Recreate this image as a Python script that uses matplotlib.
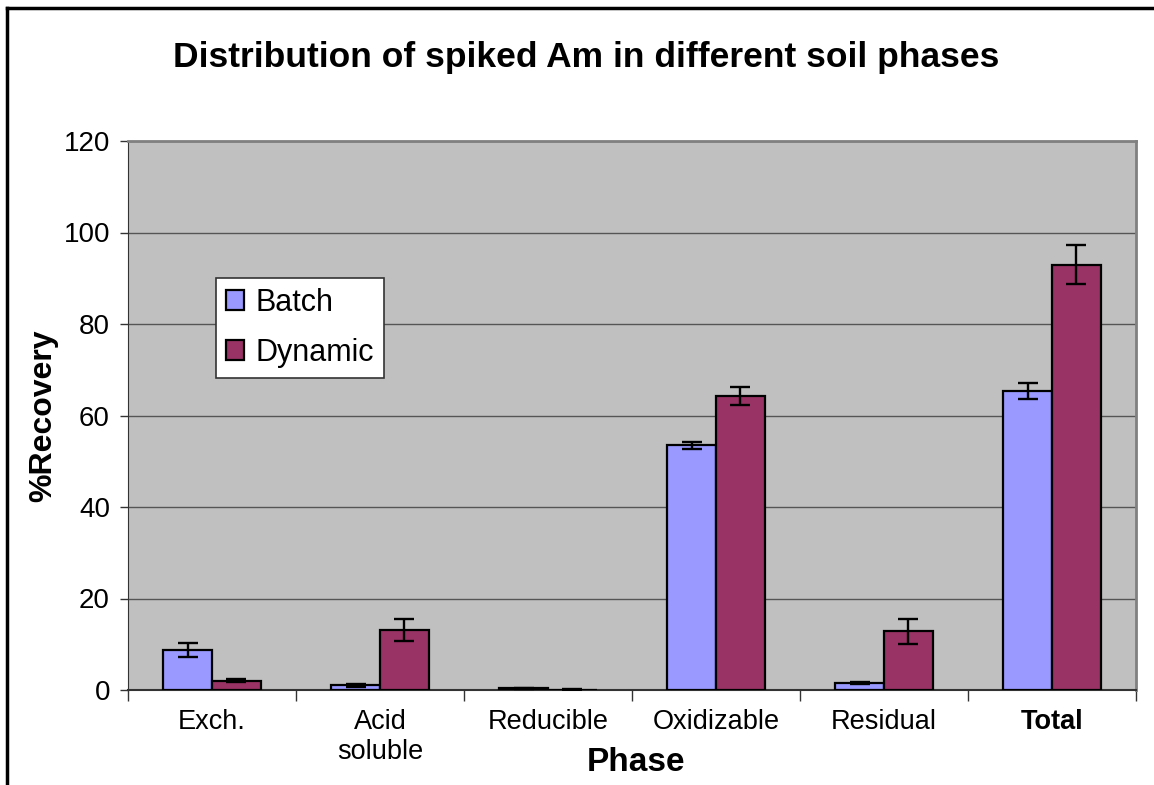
import matplotlib
matplotlib.use("Agg")
import matplotlib.pyplot as plt
import numpy as np
from matplotlib.lines import Line2D

plt.rcParams["font.family"] = ["Liberation Sans", "DejaVu Sans"]

# data
phases = ["Exch.", "Acid\nsoluble", "Reducible", "Oxidizable", "Residual", "Total"]
batch = [8.8, 1.0, 0.4, 53.5, 1.5, 65.3]
batch_err = [1.5, 0.3, 0.1, 0.8, 0.2, 1.7]
dynamic = [2.0, 13.2, 0.1, 64.3, 12.8, 93.0]
dynamic_err = [0.3, 2.4, 0.05, 2.0, 2.7, 4.2]
yticks = [0, 20, 40, 60, 80, 100, 120]

BATCH_COLOR = "#9999FF"
DYNAMIC_COLOR = "#993366"

fig = plt.figure(figsize=(11.54, 7.85), dpi=100)
ax = fig.add_axes([128 / 1154, 1 - 690 / 785, 1008 / 1154, 549 / 785])
ax.set_facecolor("#C0C0C0")

x = np.arange(len(phases))
width = 0.29
err_kw = dict(ecolor="black", elinewidth=1.7, capsize=7, capthick=1.7)

ax.bar(x - width / 2, batch, width, yerr=batch_err, color=BATCH_COLOR,
       edgecolor="black", linewidth=1.6, label="Batch", error_kw=err_kw, zorder=3)
ax.bar(x + width / 2, dynamic, width, yerr=dynamic_err, color=DYNAMIC_COLOR,
       edgecolor="black", linewidth=1.6, label="Dynamic", error_kw=err_kw, zorder=3)

ax.set_xlim(-0.5, len(phases) - 0.5)
ax.set_ylim(0, 120)
ax.set_yticks(yticks)
ax.yaxis.grid(True, color="#555555", linewidth=1.0, zorder=0)

ax.set_xticks(x)
ax.set_xticklabels(phases, fontsize=19.5, linespacing=1.2)
ax.get_xticklabels()[-1].set_fontweight("bold")
ax.set_xticks(np.arange(-0.5, len(phases)), minor=True)
ax.tick_params(axis="x", which="major", length=0, pad=14)
ax.tick_params(axis="x", which="minor", length=8, width=1, color="#333333", direction="out")
ax.tick_params(axis="y", labelsize=20, length=6, width=1, color="#333333", pad=7)

for side in ["top", "right"]:
    ax.spines[side].set_color("#808080")
    ax.spines[side].set_linewidth(2)
ax.spines["left"].set_color("#333333")
ax.spines["bottom"].set_color("#333333")
ax.spines["bottom"].set_linewidth(1.5)

ax.set_ylabel("%Recovery", fontsize=23, fontweight="bold")
ax.yaxis.set_label_coords(-0.069, 0.5)
ax.set_xlabel("Phase", fontsize=24, fontweight="bold")
ax.xaxis.set_label_coords(0.504, -0.103)

fig.text(0.508, 1 - 57 / 785, "Distribution of spiked Am in different soil phases",
         fontsize=25.5, fontweight="bold", ha="center", va="center")

leg = ax.legend(loc="upper left", bbox_to_anchor=(0.0873, 0.751), borderaxespad=0,
                fontsize=22, fancybox=False, framealpha=1, edgecolor="#333333",
                handlelength=0.6, handleheight=0.6, handletextpad=0.35,
                labelspacing=0.65, borderpad=0.33)
leg.get_frame().set_linewidth(1.2)

# chart border (only left and top show in the reference)
fig.add_artist(Line2D([7 / 1154, 7 / 1154], [0, 1 - 8 / 785], color="black",
                      linewidth=2.5, transform=fig.transFigure))
fig.add_artist(Line2D([7 / 1154, 1], [1 - 8 / 785, 1 - 8 / 785], color="black",
                      linewidth=2.5, transform=fig.transFigure))

fig.savefig("out.png", dpi=100)
